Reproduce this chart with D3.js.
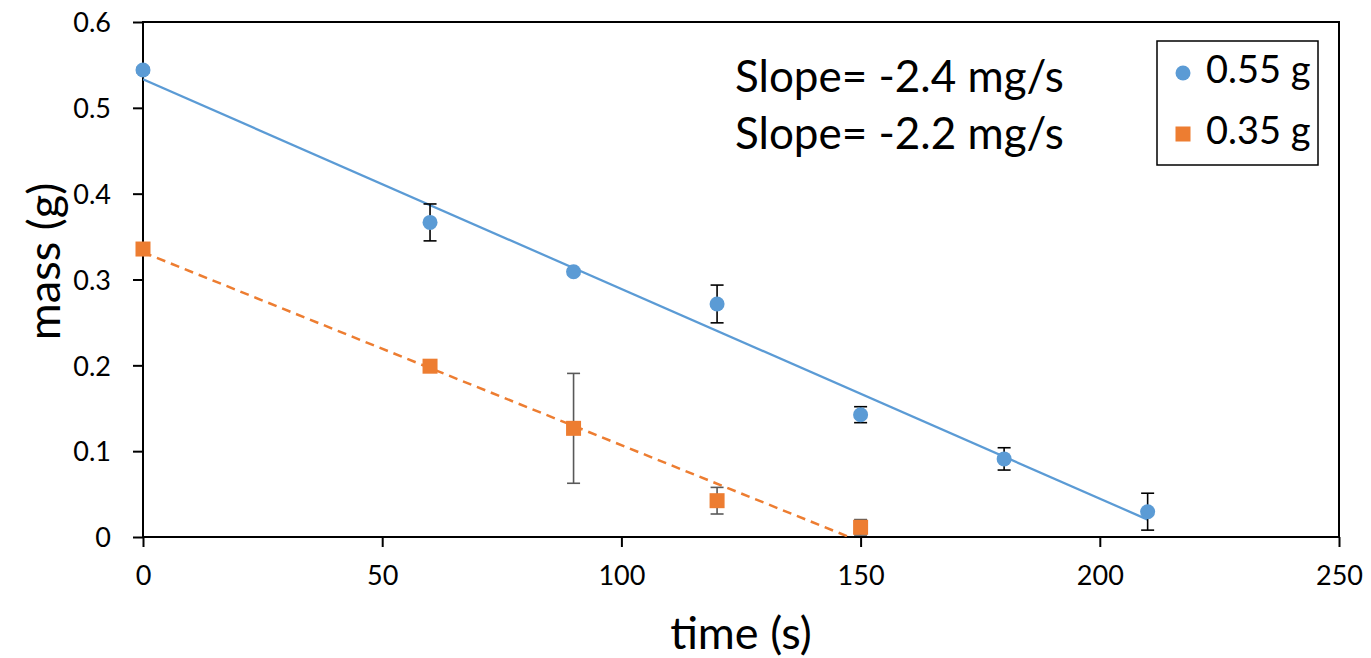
<!DOCTYPE html>
<html>
<head>
<meta charset="utf-8">
<script src="https://cdn.jsdelivr.net/npm/d3@7"></script>
<style>
  html, body { margin: 0; padding: 0; background: #fff; }
  svg { display: block; font-family: Lato, "Open Sans", sans-serif; }
</style>
</head>
<body>
<svg id="chart" width="1371" height="658"></svg>
<script>
// Mass loss over time for two starting masses, with linear trendlines
const seriesNames = ["0.55 g", "0.35 g"];
const seriesColors = ["#5B9BD5", "#ED7D31"];
const slopeLabels = ["Slope= -2.4 mg/s", "Slope= -2.2 mg/s"];

const timeA = [0, 60, 90, 120, 150, 180, 210];
const massA = [0.544, 0.3665, 0.309, 0.2715, 0.1425, 0.091, 0.0295];
const errA  = [0.003, 0.0215, 0.003, 0.022, 0.0093, 0.013, 0.0215];

const timeB = [0, 60, 90, 120, 150];
const massB = [0.3355, 0.199, 0.1266, 0.0423, 0.0113];
const errB  = [0.003, 0.003, 0.064, 0.0155, 0.009];

const xTicks = [0, 50, 100, 150, 200, 250];
const yTicks = [0, 0.1, 0.2, 0.3, 0.4, 0.5, 0.6];

const svg = d3.select("#chart");
const plotL = 143, plotR = 1339, plotT = 22, plotB = 537;

const x = d3.scaleLinear().domain([0, 250]).range([plotL, plotR]);
const y = d3.scaleLinear().domain([0, 0.6]).range([plotB, plotT]);

// least-squares line through a series
function fit(xs, ys) {
  const mx = d3.mean(xs), my = d3.mean(ys);
  let sxy = 0, sxx = 0;
  xs.forEach((v, i) => { sxy += (v - mx) * (ys[i] - my); sxx += (v - mx) * (v - mx); });
  const m = sxy / sxx;
  return { m, b: my - m * mx };
}

const series = [
  { t: timeA, v: massA, e: errA, color: seriesColors[0], shape: "circle", errColor: "#000", dash: null },
  { t: timeB, v: massB, e: errB, color: seriesColors[1], shape: "square", errColor: "#595959", dash: "9,6" }
];

svg.append("defs").append("clipPath").attr("id", "plotClip")
  .append("rect").attr("x", plotL).attr("y", plotT)
  .attr("width", plotR - plotL).attr("height", plotB - plotT);

// axes
const tickFont = "27px";
const xAxis = svg.append("g").attr("transform", `translate(0,${plotB})`)
  .call(d3.axisBottom(x).tickValues(xTicks).tickSize(10).tickPadding(19).tickFormat(d3.format("d")));
const yAxis = svg.append("g").attr("transform", `translate(${plotL},0)`)
  .call(d3.axisLeft(y).tickValues(yTicks).tickSize(10).tickPadding(22).tickFormat(d3.format("~g")));
[xAxis, yAxis].forEach(g => {
  g.select(".domain").remove();
  g.selectAll(".tick line").attr("stroke", "#000").attr("stroke-width", 2);
  g.selectAll(".tick text").attr("fill", "#000").style("font-size", tickFont)
    .style("font-family", "Lato, 'Open Sans', sans-serif");
});
yAxis.selectAll(".tick text").attr("dy", "0.36em");

// plot frame
svg.append("rect").attr("x", plotL).attr("y", plotT)
  .attr("width", plotR - plotL).attr("height", plotB - plotT)
  .attr("fill", "none").attr("stroke", "#000").attr("stroke-width", 2);

// trendlines
const plot = svg.append("g").attr("clip-path", "url(#plotClip)");
series.forEach(s => {
  const f = fit(s.t, s.v);
  const x0 = d3.min(s.t), x1 = d3.max(s.t);
  plot.append("line")
    .attr("x1", x(x0)).attr("y1", y(f.b + f.m * x0))
    .attr("x2", x(x1)).attr("y2", y(f.b + f.m * x1))
    .attr("stroke", s.color).attr("stroke-width", s.dash ? 2.5 : 2.25)
    .attr("stroke-dasharray", s.dash);
});

// error bars
series.forEach(s => {
  const g = svg.append("g").attr("stroke", s.errColor).attr("stroke-width", 1.6);
  s.t.forEach((t, i) => {
    const cx = x(t), y1 = y(s.v[i] + s.e[i]), y2 = y(s.v[i] - s.e[i]);
    g.append("line").attr("x1", cx).attr("x2", cx).attr("y1", y1).attr("y2", y2);
    g.append("line").attr("x1", cx - 6.5).attr("x2", cx + 6.5).attr("y1", y1).attr("y2", y1);
    g.append("line").attr("x1", cx - 6.5).attr("x2", cx + 6.5).attr("y1", y2).attr("y2", y2);
  });
});

// markers
function marker(g, shape, cx, cy, color) {
  if (shape === "circle") {
    g.append("circle").attr("cx", cx).attr("cy", cy).attr("r", 7.5).attr("fill", color);
  } else {
    g.append("rect").attr("x", cx - 7.5).attr("y", cy - 7.5).attr("width", 15).attr("height", 15).attr("fill", color);
  }
}
series.forEach(s => {
  const g = svg.append("g");
  s.t.forEach((t, i) => marker(g, s.shape, x(t), y(s.v[i]), s.color));
});

// slope annotations
slopeLabels.forEach((txt, i) => {
  svg.append("text").attr("x", 735).attr("y", 92 + i * 57)
    .style("font-size", "44px").attr("fill", "#000").text(txt);
});

// legend
const lg = svg.append("g");
lg.append("rect").attr("x", 1157).attr("y", 41).attr("width", 161).attr("height", 124)
  .attr("fill", "#fff").attr("stroke", "#000").attr("stroke-width", 1.5);
seriesNames.forEach((name, i) => {
  const cy = 73 + i * 61;
  marker(lg, series[i].shape, 1183, cy, series[i].color);
  lg.append("text").attr("x", 1206).attr("y", cy + 10)
    .style("font-size", "38px").attr("fill", "#000").text(name);
});

// axis titles
svg.append("text").attr("x", (plotL + plotR) / 2).attr("y", 649)
  .attr("text-anchor", "middle").style("font-size", "45px").attr("fill", "#000").text("time (s)");
svg.append("text").attr("transform", `translate(60,${(plotT + plotB) / 2 - 18}) rotate(-90)`)
  .attr("text-anchor", "middle").style("font-size", "45px").attr("fill", "#000").text("mass (g)");
</script>
</body>
</html>
